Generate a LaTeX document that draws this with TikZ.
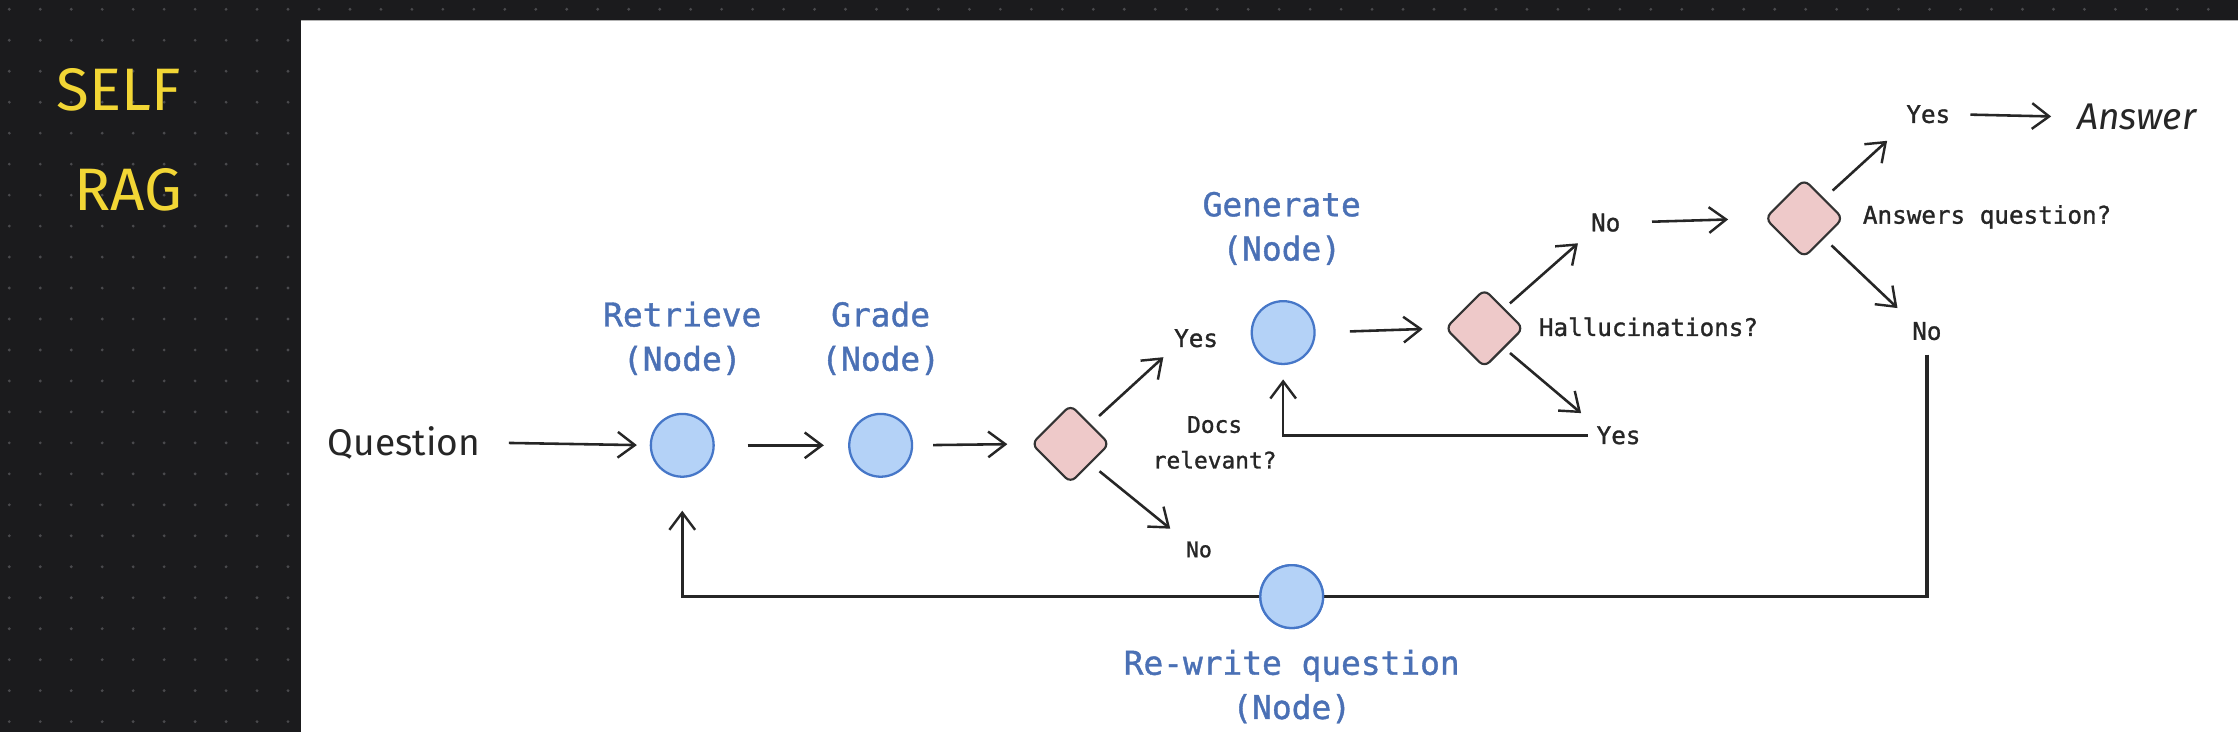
\documentclass[tikz,border=0pt]{standalone}
\usepackage{fontspec}
\setmainfont{Fira Sans}
\newfontfamily\monof[FakeBold=1.2]{DejaVu Sans Mono}
\usetikzlibrary{arrows.meta,shapes.geometric,calc}
\definecolor{bgdark}{HTML}{1B1B1D}
\definecolor{dotc}{HTML}{4A4A4D}
\definecolor{nodefill}{HTML}{B4D2F7}
\definecolor{nodedraw}{HTML}{4677C8}
\definecolor{diafill}{HTML}{EEC9C9}
\definecolor{diadraw}{HTML}{333333}
\definecolor{lblblue}{HTML}{4A70B5}
\definecolor{ink}{HTML}{262626}
\definecolor{hand}{HTML}{F2D635}
\begin{document}
\begin{tikzpicture}[x=1pt,y=-1pt,
  proc/.style={circle, draw=nodedraw, fill=nodefill, line width=1.6pt, minimum size=44pt, inner sep=0pt},
  dec/.style={diamond, draw=diadraw, fill=diafill, line width=1.5pt, minimum width=55pt, minimum height=55pt, inner sep=0pt, rounded corners=5pt},
  lbl/.style={font=\monof\fontsize{23}{31}\selectfont, text=lblblue, align=center, inner sep=0pt},
  small/.style={font=\monof\fontsize{17}{25}\selectfont, text=ink, inner sep=0pt, align=center},
  handtxt/.style={font=\fontsize{26}{30}\selectfont, text=ink, inner sep=0pt},
  selftxt/.style={font=\fontsize{42}{48}\selectfont, text=hand, inner sep=0pt},
  arr/.style={draw=ink, line width=1.8pt, -{Straight Barb[length=12pt,width=18pt,line width=1.7pt]}},
  wire/.style={draw=ink, line width=1.8pt}]
\useasboundingbox (0,0) rectangle (1568,513);
\fill[bgdark] (0,0) rectangle (1568,513);
\foreach \i in {0,...,72} {\foreach \j in {0,...,23} {\fill[dotc] (6.5+21.7*\i,6.5+21.7*\j) circle (1.1);}}
\fill[white] (211,14) rectangle (1568,513);
\draw[gray!60, line width=1pt] (211,14.5) -- (1568,14.5);
% title
\node[selftxt] (self) at (83,63) {SELF};
\node[selftxt] (rag) at (90,133) {RAG};
% nodes
\node[handtxt] (question) at (283,310) {Question};
\node[proc] (retr) at (478,312) {};
\node[lbl] (retrL) at (478,237) {Retrieve\\(Node)};
\node[proc] (grade) at (617,312) {};
\node[lbl] (gradeL) at (617,237) {Grade\\(Node)};
\node[dec] (d1) at (750,311) {};
\node[small, font=\monof\fontsize{16}{25}\selectfont] (docs) at (851,310) {Docs\\relevant?};
\node[small] (yes1) at (838,237) {Yes};
\node[small, font=\monof\fontsize{15}{20}\selectfont] (no1) at (840,385) {No};
\node[proc] (gen) at (899,233) {};
\node[lbl] (genL) at (898,160) {Generate\\(Node)};
\node[dec] (d2) at (1040,230) {};
\node[small, anchor=west] (hall) at (1078,229) {Hallucinations?};
\node[small] (no2) at (1125,156) {No};
\node[small] (yes2) at (1134,305) {Yes};
\node[dec] (d3) at (1264,153) {};
\node[small, anchor=west] (ansq) at (1305,152) {Answers question?};
\node[small] (yes3) at (1351,80) {Yes};
\node[handtxt, font=\itshape\fontsize{26}{30}\selectfont] (answer) at (1497,82) {Answer};
\node[small] (no3) at (1350,232) {No};
\node[lbl] (rewL) at (905,481) {Re-write question\\(Node)};
% connectors
\draw[arr, shorten <=20pt, shorten >=9pt] (question.east) -- (retr.west);
\draw[arr, shorten <=23pt, shorten >=17pt] (retr.east) -- (grade.west);
\draw[arr, shorten <=14pt, shorten >=16pt] (grade.east) -- (d1.west);
\draw[arr, shorten <=8pt, shorten >=10pt] (d1.north east) -- (yes1.south west);
\draw[arr, shorten <=8pt, shorten >=14pt] (d1.south east) -- (no1.north west);
\draw[arr, shorten <=24pt, shorten >=15pt] (gen.east) -- (d2.west);
\draw[arr, shorten <=5pt, shorten >=12pt] (d2.north east) -- (no2.south west);
\draw[arr, shorten <=5pt, shorten >=14pt] (d2.south east) -- (yes2.north west);
\draw[arr, shorten <=6pt, shorten >=10pt] (yes2.west) -- (yes2.west -| gen) -- (gen.south);
\draw[arr, shorten <=22pt, shorten >=25pt] (no2.east) -- (d3.west);
\draw[arr, shorten <=8pt, shorten >=18pt] (d3.north east) -- (yes3.south west);
\draw[arr, shorten <=14pt, shorten >=18pt] (yes3.east) -- (answer.west);
\draw[arr, shorten <=7pt, shorten >=14pt] (d3.south east) -- (no3.north west);
\node[proc] (rew) at (905,418) {};
\draw[wire, line width=2.4pt, shorten <=10pt] (no3.south) -- (no3.south |- rew.east) -- (rew.east);
\draw[arr, line width=2.4pt, shorten >=23pt] (rew.west) -- (rew.west -| retr) -- (retr.south);
\node[proc] at (rew) {};
\end{tikzpicture}
\end{document}
